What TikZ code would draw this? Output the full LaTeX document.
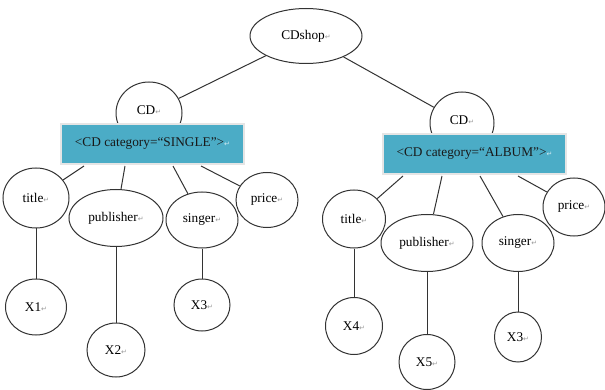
\documentclass[tikz,border=0pt]{standalone}
\usepackage{fontspec}
\setmainfont{Liberation Serif}
\newfontfamily\symf{DejaVu Sans}
\usetikzlibrary{shapes.geometric,calc}
\definecolor{boxteal}{RGB}{75,172,198}
\newcommand{\pmk}{{\symf\fontsize{7}{8}\selectfont\color{gray!80}↵}}
\newcommand{\pmw}{{\symf\fontsize{7}{8}\selectfont\color{white!75!boxteal}↵}}
\begin{document}
\begin{tikzpicture}[x=1pt,y=-1pt,
  every node/.style={font=\fontsize{13.3}{15}\selectfont},
  el/.style={ellipse,draw=black!80,line width=1pt,fill=white,inner sep=0pt},
  cbox/.style={rectangle,fill=boxteal,draw=gray!20,line width=2pt,minimum width=183pt,minimum height=40pt,inner sep=0pt},
  edge/.style={draw=black!80,line width=1pt}]
\useasboundingbox (0,0) rectangle (605,390);
% nodes
\node[el,minimum width=112pt,minimum height=55pt] (shop) at (306,36) {CDshop\pmk};
\node[el,minimum width=66pt,minimum height=62pt] (cdL) at (149,113) {\raisebox{5pt}{CD\pmk}};
\node[el,minimum width=64pt,minimum height=62pt] (cdR) at (462,123) {\raisebox{5pt}{CD\pmk}};
\node[el,minimum width=66pt,minimum height=60pt] (titleL) at (36,198) {title\pmk};
\node[el,minimum width=94pt,minimum height=57pt] (pubL) at (116,218) {publisher\pmk};
\node[el,minimum width=72pt,minimum height=56pt] (singL) at (202,220) {singer\pmk};
\node[el,minimum width=62pt,minimum height=55pt] (priceL) at (267,200) {price\pmk};
\node[el,minimum width=61pt,minimum height=56pt] (x1) at (36,307) {X1\pmk};
\node[el,minimum width=58pt,minimum height=54pt] (x2) at (116,350) {X2\pmk};
\node[el,minimum width=56pt,minimum height=52pt] (x3L) at (202,305) {X3\pmk};
\node[el,minimum width=63pt,minimum height=58pt] (titleR) at (354,219) {title\pmk};
\node[el,minimum width=92pt,minimum height=57pt] (pubR) at (427,243) {publisher\pmk};
\node[el,minimum width=72pt,minimum height=57pt] (singR) at (518,243) {singer\pmk};
\node[el,minimum width=62pt,minimum height=58pt] (priceR) at (574,207) {price\pmk};
\node[el,minimum width=57pt,minimum height=57pt] (x4) at (354,326) {X4\pmk};
\node[el,minimum width=56pt,minimum height=55pt] (x5) at (427,362) {X5\pmk};
\node[el,minimum width=47pt,minimum height=50pt] (x3R) at (518,337) {X3\pmk};
% boxes
\node[cbox] (boxL) at (152.5,144) {\color{black!90}<CD category=“SINGLE”>\pmw};
\node[cbox] (boxR) at (474.5,154) {\color{black!90}<CD category=“ALBUM”>\pmw};
% box anchors for connectors
\coordinate (bl1) at ($(boxL.south west)+(24,1)$);
\coordinate (bl2) at ($(boxL.south west)+(65,1)$);
\coordinate (bl3) at ($(boxL.south west)+(113,1)$);
\coordinate (bl4) at ($(boxL.south west)+(141,1)$);
\coordinate (br1) at ($(boxR.south west)+(21,1)$);
\coordinate (br2) at ($(boxR.south west)+(60,1)$);
\coordinate (br3) at ($(boxR.south west)+(98,1)$);
\coordinate (br4) at ($(boxR.south west)+(136,1)$);
% connectors
\path[edge] (shop) -- (cdL);
\path[edge] (shop) -- (cdR);
\path[edge] (bl1) -- (titleL);
\path[edge] (bl2) -- (pubL);
\path[edge] (bl3) -- (singL);
\path[edge] (bl4) -- (priceL);
\path[edge] (br1) -- (titleR);
\path[edge] (br2) -- (pubR);
\path[edge] (br3) -- (singR);
\path[edge] (br4) -- (priceR);
\path[edge] (titleL) -- (x1);
\path[edge] (pubL) -- (x2);
\path[edge] (singL) -- (x3L);
\path[edge] (titleR) -- (x4);
\path[edge] (pubR) -- (x5);
\path[edge] (singR) -- (x3R);
\end{tikzpicture}
\end{document}
